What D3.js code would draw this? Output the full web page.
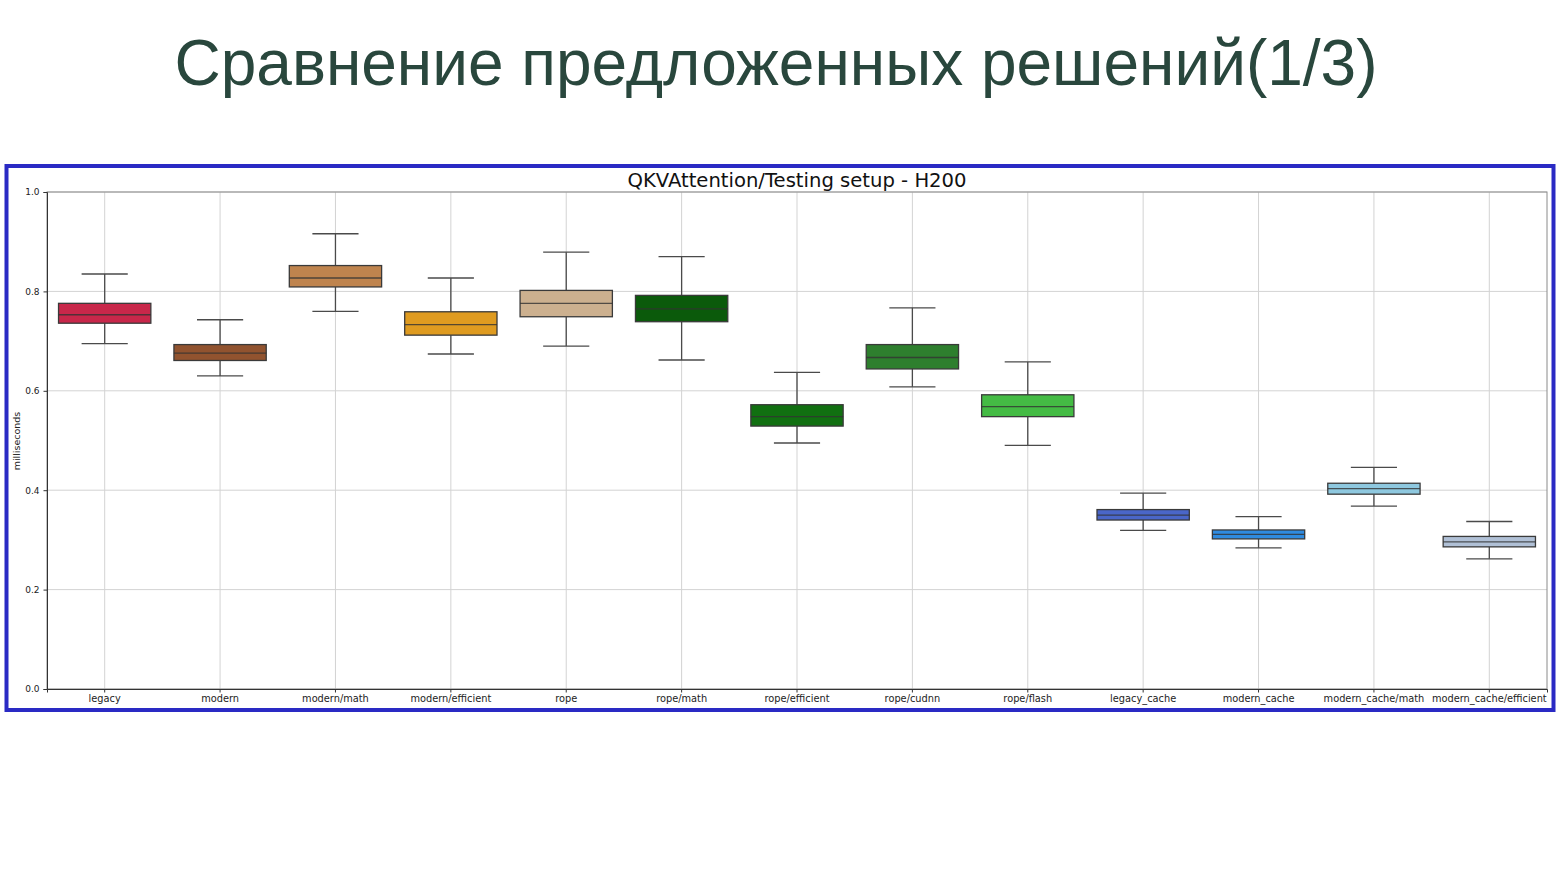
<!DOCTYPE html>
<html>
<head>
<meta charset="utf-8">
<script src="https://cdn.jsdelivr.net/npm/d3@7"></script>
<style>
  body { margin: 0; background: #fff; }
  svg { display: block; }
</style>
</head>
<body>
<svg width="1560" height="877"></svg>
<script>
// box stats (milliseconds)
const categories = ["legacy", "modern", "modern/math", "modern/efficient", "rope", "rope/math",
    "rope/efficient", "rope/cudnn", "rope/flash", "legacy_cache", "modern_cache",
    "modern_cache/math", "modern_cache/efficient"];
const whiskerLow = [0.695, 0.630, 0.760, 0.674, 0.690, 0.662, 0.495, 0.608, 0.490, 0.319, 0.284, 0.368, 0.262];
const q1 = [0.736, 0.661, 0.809, 0.712, 0.749, 0.739, 0.529, 0.644, 0.548, 0.340, 0.302, 0.392, 0.286];
const median = [0.753, 0.676, 0.827, 0.733, 0.776, 0.765, 0.548, 0.667, 0.568, 0.350, 0.311, 0.403, 0.296];
const q3 = [0.776, 0.693, 0.852, 0.759, 0.802, 0.792, 0.572, 0.693, 0.592, 0.361, 0.320, 0.414, 0.307];
const whiskerHigh = [0.835, 0.743, 0.916, 0.827, 0.879, 0.870, 0.637, 0.767, 0.658, 0.394, 0.347, 0.446, 0.337];
const boxColors = ["#c8274a", "#91532f", "#bf844e", "#df9b20", "#ccb08f", "#0b5a0b", "#117011",
    "#2e7f2e", "#44bb44", "#4a66c8", "#2f8be0", "#8ec8df", "#b0c0d6"];
const yTicks = [0, 0.2, 0.4, 0.6, 0.8, 1.0];

const svg = d3.select("svg");

// slide title
svg.append("text")
    .attr("x", 776)
    .attr("y", 85)
    .attr("text-anchor", "middle")
    .style("font-family", "'Liberation Sans', Arial, sans-serif")
    .style("font-size", "64px")
    .style("fill", "#29473d")
    .text("Сравнение предложенных решений(1/3)");

// blue frame round the figure
svg.append("rect")
    .attr("x", 6.5).attr("y", 166)
    .attr("width", 1547).attr("height", 544)
    .style("fill", "#fff")
    .style("stroke", "#2a2ac4")
    .style("stroke-width", 4);

const margin = {left: 47, right: 1547, top: 192, bottom: 689};

const x = d3.scaleBand()
    .domain(categories)
    .range([margin.left, margin.right])
    .padding(0);

const y = d3.scaleLinear()
    .domain([0, 1])
    .range([margin.bottom, margin.top]);

const g = svg.append("g");

// grid
g.append("g")
    .selectAll("line")
    .data(yTicks)
    .enter().append("line")
    .attr("x1", margin.left).attr("x2", margin.right)
    .attr("y1", d => y(d)).attr("y2", d => y(d))
    .style("stroke", "#d3d3d3").style("stroke-width", 1);

g.append("g")
    .selectAll("line")
    .data(categories)
    .enter().append("line")
    .attr("x1", d => x(d) + x.bandwidth() / 2).attr("x2", d => x(d) + x.bandwidth() / 2)
    .attr("y1", margin.top).attr("y2", margin.bottom)
    .style("stroke", "#d3d3d3").style("stroke-width", 1);

// frame of the axes
g.append("rect")
    .attr("x", margin.left).attr("y", margin.top)
    .attr("width", margin.right - margin.left)
    .attr("height", margin.bottom - margin.top)
    .style("fill", "none")
    .style("stroke", "#8a8a8a")
    .style("stroke-width", 1);

// axes
const yAxis = g.append("g")
    .attr("transform", `translate(${margin.left},0)`)
    .call(d3.axisLeft(y).tickValues(yTicks).tickFormat(d3.format(".1f")).tickSize(3.5).tickPadding(4));
const xAxis = g.append("g")
    .attr("transform", `translate(0,${margin.bottom})`)
    .call(d3.axisBottom(x).tickSize(3.5).tickPadding(3));

[yAxis, xAxis].forEach(a => {
    a.select(".domain").style("stroke", "#333");
    a.selectAll(".tick line").style("stroke", "#333");
    a.selectAll("text")
        .style("font-family", "'DejaVu Sans', sans-serif")
        .style("font-size", "9.8px")
        .style("fill", "#222");
});
yAxis.selectAll("text").style("font-size", "9px");

svg.append("text")
    .attr("transform", "translate(20,441) rotate(-90)")
    .attr("text-anchor", "middle")
    .style("font-family", "'DejaVu Sans', sans-serif")
    .style("font-size", "9.5px")
    .style("fill", "#222")
    .text("milliseconds");

svg.append("text")
    .attr("x", (margin.left + margin.right) / 2)
    .attr("y", 187)
    .attr("text-anchor", "middle")
    .style("font-family", "'DejaVu Sans', sans-serif")
    .style("font-size", "19.6px")
    .style("fill", "#111")
    .text("QKVAttention/Testing setup - H200");

// boxes
const boxW = x.bandwidth() * 0.8;
const capW = boxW / 2;
const boxes = g.append("g")
    .selectAll("g")
    .data(categories)
    .enter().append("g")
    .attr("transform", d => `translate(${x(d) + x.bandwidth() / 2},0)`);

const wStroke = "#4a4a4a";

boxes.append("line")
    .attr("y1", (d, i) => y(whiskerHigh[i])).attr("y2", (d, i) => y(q3[i]))
    .style("stroke", wStroke).style("stroke-width", 1.3);
boxes.append("line")
    .attr("y1", (d, i) => y(q1[i])).attr("y2", (d, i) => y(whiskerLow[i]))
    .style("stroke", wStroke).style("stroke-width", 1.3);
boxes.append("line")
    .attr("x1", -capW / 2).attr("x2", capW / 2)
    .attr("y1", (d, i) => y(whiskerHigh[i])).attr("y2", (d, i) => y(whiskerHigh[i]))
    .style("stroke", wStroke).style("stroke-width", 1.3);
boxes.append("line")
    .attr("x1", -capW / 2).attr("x2", capW / 2)
    .attr("y1", (d, i) => y(whiskerLow[i])).attr("y2", (d, i) => y(whiskerLow[i]))
    .style("stroke", wStroke).style("stroke-width", 1.3);

boxes.append("rect")
    .attr("x", -boxW / 2)
    .attr("width", boxW)
    .attr("y", (d, i) => y(q3[i]))
    .attr("height", (d, i) => y(q1[i]) - y(q3[i]))
    .style("fill", (d, i) => boxColors[i])
    .style("stroke", "#3a3a3a")
    .style("stroke-width", 1.3);

boxes.append("line")
    .attr("x1", -boxW / 2).attr("x2", boxW / 2)
    .attr("y1", (d, i) => y(median[i])).attr("y2", (d, i) => y(median[i]))
    .style("stroke", "#333").style("stroke-width", 1.3)
    .style("opacity", 0.8);
</script>
</body>
</html>
